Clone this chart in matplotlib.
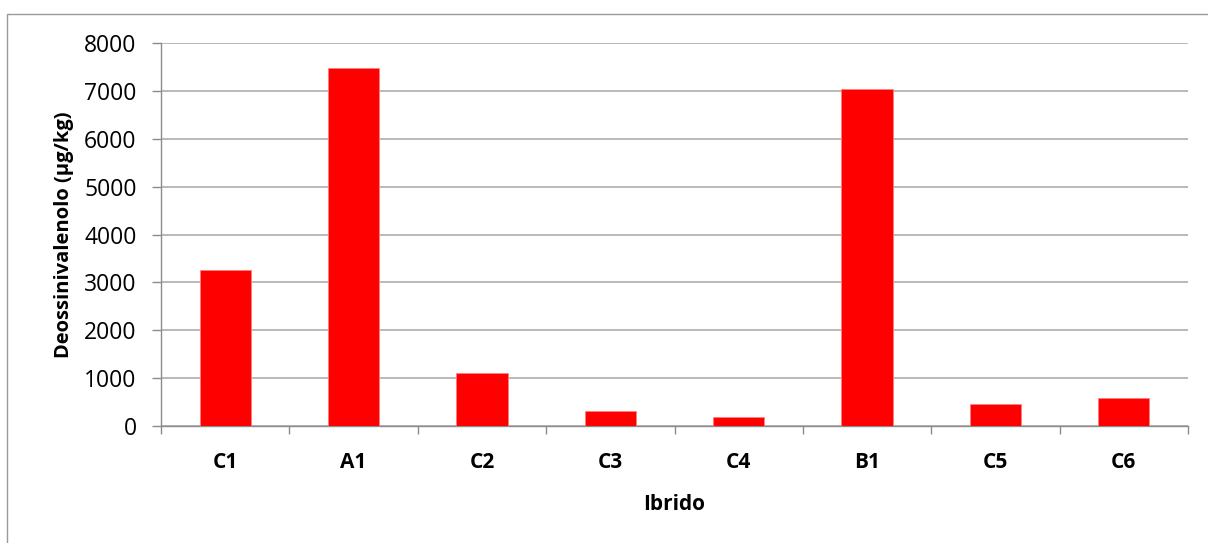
import matplotlib.pyplot as plt
from matplotlib.patches import Rectangle

plt.rcParams['font.family'] = ['Open Sans', 'DejaVu Sans']

ibridi = ["C1", "A1", "C2", "C3", "C4", "B1", "C5", "C6"]
don = [3260, 7480, 1110, 310, 180, 7040, 450, 580]
yticks = [0, 1000, 2000, 3000, 4000, 5000, 6000, 7000, 8000]

fig = plt.figure(figsize=(12.08, 5.43), dpi=100)
ax = fig.add_axes([161 / 1208, 1 - 426 / 543, (1188 - 161) / 1208, (426 - 43) / 543])

# cornice grigia attorno al grafico
fig.patches.append(Rectangle((7 / 1208, -0.1), 1.1, 1 - 13.5 / 543 + 0.1,
                             transform=fig.transFigure, fill=False,
                             edgecolor="#9a9a9a", linewidth=1))

x = list(range(len(ibridi)))
ax.bar(x, don, width=0.4, color="#ff0000", edgecolor="#ff8080", linewidth=0.6, zorder=3)

ax.set_xlim(-0.5, len(ibridi) - 0.5)
ax.set_ylim(0, 8000)
ax.set_yticks(yticks)
ax.set_yticklabels([str(v) for v in yticks], fontsize=16.5)
ax.yaxis.grid(True, color="#a6a6a6", linewidth=1.1, zorder=0)

ax.set_xticks(x)
ax.set_xticklabels(ibridi, fontsize=15, fontweight="bold")
ax.tick_params(axis="x", which="major", length=0, pad=19)
ax.set_xticks([i - 0.5 for i in range(len(ibridi) + 1)], minor=True)
ax.tick_params(axis="x", which="minor", length=6, color="#8c8c8c", width=1)
ax.tick_params(axis="y", length=6.5, color="#8c8c8c", width=1, pad=11)

for s in ["top", "right"]:
    ax.spines[s].set_visible(False)
for s in ["left", "bottom"]:
    ax.spines[s].set_color("#8c8c8c")
    ax.spines[s].set_linewidth(1)

ax.set_xlabel("Ibrido", fontsize=15, fontweight="bold", labelpad=15)
ax.set_ylabel("Deossinivalenolo (µg/kg)", fontsize=14.5, fontweight="bold", labelpad=7)

fig.savefig("out.png", dpi=100)
